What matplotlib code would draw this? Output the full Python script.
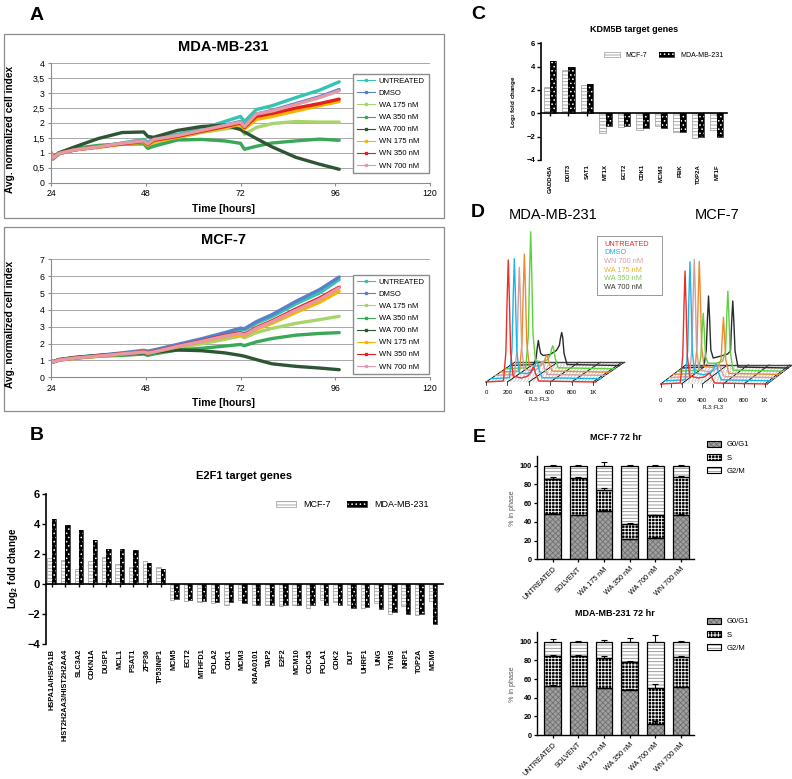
import numpy as np
import matplotlib.pyplot as plt
from matplotlib.patches import Rectangle, Patch
from matplotlib.lines import Line2D

plt.rcParams['font.family'] = ['Liberation Sans', 'DejaVu Sans']
plt.rcParams['mathtext.default'] = 'regular'
plt.rcParams['hatch.linewidth'] = 0.6

# ---------------- A: normalized cell index ----------------
hours = [24, 24.5, 26, 30, 36, 42, 47.5, 48.5, 50, 56, 62, 68, 72, 73, 76, 80, 86, 92, 97]
growth_labels = ['UNTREATED', 'DMSO', 'WA 175 nM', 'WA 350 nM', 'WA 700 nM',
                 'WN 175 nM', 'WN 350 nM', 'WN 700 nM']
growth_colors = ['#33c4b4', '#5b80c8', '#a9d46c', '#3aa857', '#2e5634',
                 '#f7b500', '#e3201b', '#e59aa8']

mda_untreated = [1.0, 0.8, 0.97, 1.1, 1.2, 1.33, 1.45, 1.35, 1.48, 1.62, 1.8, 2.05, 2.22, 2.05, 2.45, 2.58, 2.85, 3.1, 3.38]
mda_dmso = [1.0, 0.82, 0.97, 1.1, 1.2, 1.32, 1.4, 1.3, 1.45, 1.58, 1.75, 1.93, 2.05, 1.9, 2.3, 2.42, 2.65, 2.88, 3.12]
mda_wa175 = [1.0, 0.85, 0.98, 1.12, 1.2, 1.28, 1.32, 1.18, 1.3, 1.5, 1.68, 1.8, 1.87, 1.62, 1.85, 1.98, 2.05, 2.03, 2.03]
mda_wa350 = [1.0, 0.85, 1.0, 1.15, 1.25, 1.3, 1.3, 1.15, 1.22, 1.43, 1.45, 1.4, 1.32, 1.12, 1.22, 1.33, 1.4, 1.46, 1.42]
mda_wa700 = [1.0, 0.82, 1.0, 1.2, 1.48, 1.68, 1.7, 1.55, 1.52, 1.75, 1.88, 1.93, 1.78, 1.7, 1.48, 1.2, 0.85, 0.62, 0.45]
mda_wn175 = [1.0, 0.8, 0.97, 1.1, 1.18, 1.3, 1.35, 1.25, 1.38, 1.52, 1.7, 1.85, 1.95, 1.8, 2.12, 2.22, 2.4, 2.58, 2.72]
mda_wn350 = [1.0, 0.8, 0.98, 1.1, 1.2, 1.3, 1.38, 1.28, 1.42, 1.55, 1.72, 1.88, 2.0, 1.85, 2.22, 2.32, 2.5, 2.65, 2.8]
mda_wn700 = [1.0, 0.82, 0.98, 1.1, 1.2, 1.32, 1.4, 1.3, 1.45, 1.58, 1.75, 1.92, 2.03, 1.88, 2.3, 2.4, 2.62, 2.85, 3.08]

mcf_untreated = [1.0, 0.9, 1.02, 1.15, 1.28, 1.42, 1.55, 1.5, 1.58, 1.9, 2.22, 2.6, 2.85, 2.8, 3.2, 3.6, 4.35, 5.0, 5.8]
mcf_dmso = [1.0, 0.92, 1.03, 1.17, 1.3, 1.45, 1.6, 1.55, 1.62, 1.95, 2.28, 2.65, 2.92, 2.88, 3.3, 3.72, 4.5, 5.2, 5.95]
mcf_wa175 = [1.0, 0.92, 1.05, 1.15, 1.25, 1.35, 1.45, 1.38, 1.45, 1.75, 1.98, 2.25, 2.45, 2.35, 2.65, 2.9, 3.2, 3.42, 3.62]
mcf_wa350 = [1.0, 0.92, 1.05, 1.15, 1.25, 1.3, 1.38, 1.3, 1.38, 1.62, 1.72, 1.85, 1.95, 1.88, 2.1, 2.3, 2.5, 2.6, 2.65]
mcf_wa700 = [1.0, 0.92, 1.05, 1.18, 1.3, 1.38, 1.45, 1.4, 1.48, 1.62, 1.58, 1.45, 1.3, 1.25, 1.05, 0.8, 0.65, 0.55, 0.45]
mcf_wn175 = [1.0, 0.9, 1.02, 1.12, 1.25, 1.38, 1.5, 1.42, 1.5, 1.8, 2.1, 2.4, 2.52, 2.45, 2.85, 3.2, 3.85, 4.45, 5.1]
mcf_wn350 = [1.0, 0.9, 1.02, 1.14, 1.27, 1.4, 1.52, 1.45, 1.52, 1.85, 2.15, 2.48, 2.65, 2.55, 2.95, 3.35, 4.05, 4.7, 5.35]
mcf_wn700 = [1.0, 0.9, 1.02, 1.14, 1.26, 1.39, 1.5, 1.44, 1.5, 1.83, 2.12, 2.44, 2.6, 2.5, 2.9, 3.3, 3.98, 4.62, 5.3]

# ---------------- B: E2F1 targets ----------------
e2f1_genes = ['HSPA1A/HSPA1B', 'HIST2H2AA3/HIST2H2AA4', 'SLC3A2', 'CDKN1A', 'DUSP1', 'MCL1',
              'PSAT1', 'ZFP36', 'TP53INP1', 'MCM5', 'ECT2', 'MTHFD1', 'POLA2', 'CDK1', 'MCM3',
              'KIAA0101', 'TAP2', 'E2F2', 'MCM10', 'CDC45', 'POLA1', 'CDK2', 'DUT', 'UHRF1',
              'UNG', 'TYMS', 'NRP1', 'TOP2A', 'MCM6']
e2f1_mcf7 = [1.7, 1.6, 1.0, 1.55, 1.8, 1.3, 1.15, 1.55, 1.1, -1.1, -1.15, -1.25, -1.3, -1.4,
             -1.1, -1.45, -1.45, -1.5, -1.4, -1.6, -1.1, -1.2, -1.45, -1.6, -1.3, -2.0, -1.5,
             -2.1, -1.15]
e2f1_mda = [4.35, 3.95, 3.6, 2.9, 2.3, 2.3, 2.25, 1.4, 1.0, -1.05, -1.1, -1.15, -1.25, -1.25,
            -1.3, -1.4, -1.4, -1.4, -1.4, -1.45, -1.45, -1.4, -1.6, -1.55, -1.7, -1.9, -2.0,
            -2.0, -2.7]

# ---------------- C: KDM5B targets ----------------
kdm_genes = ['GADD45A', 'DDIT3', 'SAT1', 'MT1X', 'ECT2', 'CDK1', 'MCM3', 'PBK', 'TOP2A', 'MT1F']
kdm_mcf7 = [2.25, 3.7, 2.4, -1.7, -1.2, -1.45, -1.1, -1.6, -2.1, -1.45]
kdm_mda = [4.5, 4.0, 2.55, -1.05, -1.1, -1.3, -1.3, -1.6, -2.0, -2.0]

# ---------------- D: DNA content histograms (FL3, counts) ----------------
flow_labels = ['UNTREATED', 'DMSO', 'WN 700 nM', 'WA 175 nM', 'WA 350 nM', 'WA 700 nM']
flow_colors = ['#e8302a', '#1eb4e8', '#cf9f9f', '#ee8a2e', '#5fd040', '#2a2a2a']
flow_text_colors = ['#e8302a', '#1eb4e8', '#d9a0a0', '#f0b030', '#80d060', '#333333']
mda_fl3 = [
    [0, 163, 186, 198, 208, 218, 230, 253, 330, 392, 420, 432, 442, 452, 464, 492, 1024],
    [0, 175, 198, 210, 220, 230, 242, 265, 330, 379, 407, 419, 429, 439, 451, 479, 1024],
    [0, 177, 200, 212, 222, 232, 244, 267, 335, 385, 413, 425, 435, 445, 457, 485, 1024],
    [0, 179, 202, 214, 224, 234, 246, 269, 335, 383, 411, 423, 433, 443, 455, 483, 1024],
    [0, 193, 216, 228, 238, 248, 260, 283, 345, 394, 422, 434, 444, 454, 466, 494, 1024],
    [0, 220, 243, 255, 265, 275, 287, 310, 374, 433, 461, 473, 483, 493, 505, 533, 1024]]
mda_counts = [
    [0, 1, 30, 85, 122, 85, 30, 6, 4, 6, 10, 13, 15, 13, 8, 1, 0],
    [0, 1, 30, 84, 120, 84, 30, 6, 5, 7, 11, 15, 17, 15, 9, 1, 0],
    [0, 1, 27, 76, 108, 76, 27, 6, 5, 6, 9, 12, 14, 12, 7, 1, 0],
    [0, 1, 30, 83, 118, 83, 30, 7, 6, 7, 11, 15, 17, 15, 9, 1, 0],
    [0, 1, 34, 96, 137, 96, 34, 8, 7, 9, 14, 20, 23, 20, 11, 1, 0],
    [0, 1, 7, 18, 25, 18, 12, 10, 11, 15, 20, 28, 33, 28, 12, 1, 0]]
mcf_fl3 = [
    [0, 189, 212, 224, 234, 244, 256, 279, 360, 417, 445, 457, 467, 477, 489, 517, 1024],
    [0, 196, 219, 231, 241, 251, 263, 286, 370, 441, 469, 481, 491, 501, 513, 541, 1024],
    [0, 197, 220, 232, 242, 252, 264, 287, 365, 430, 458, 470, 480, 490, 502, 530, 1024],
    [0, 205, 228, 240, 250, 260, 272, 295, 370, 432, 460, 472, 482, 492, 504, 532, 1024],
    [0, 202, 225, 237, 247, 257, 269, 292, 370, 434, 462, 474, 484, 494, 506, 534, 1024],
    [0, 213, 236, 248, 258, 268, 280, 303, 380, 441, 469, 481, 491, 501, 513, 541, 1024]]
mcf_counts = [
    [0, 1, 28, 79, 113, 79, 28, 8, 6, 7, 9, 10, 11, 10, 7, 1, 0],
    [0, 1, 30, 83, 119, 83, 30, 8, 6, 8, 12, 15, 17, 15, 9, 1, 0],
    [0, 1, 30, 83, 118, 83, 30, 8, 6, 7, 9, 11, 12, 11, 7, 1, 0],
    [0, 1, 28, 79, 113, 79, 28, 8, 7, 9, 15, 40, 57, 40, 15, 1, 0],
    [0, 1, 15, 41, 58, 41, 15, 8, 8, 10, 20, 56, 80, 56, 20, 1, 0],
    [0, 1, 18, 50, 72, 50, 18, 10, 12, 14, 17, 47, 67, 47, 17, 1, 0]]
fl3_ticks = [0, 200, 400, 600, 800, 1000]
fl3_ticklabels = ['0', '200', '400', '600', '800', '1K']

# ---------------- E: cell cycle phases ----------------
phase_groups = ['UNTREATED', 'SOLVENT', 'WA 175 nM', 'WA 350 nM', 'WA 700 nM', 'WN 700 nM']
mcf_g1 = [48, 47, 51.5, 21.5, 23, 47.5]
mcf_s = [38, 40, 23, 16, 24, 40]
mcf_g1_err = [1, 0.5, 1.5, 0.5, 1, 0.5]
mcf_s_err = [1.5, 1, 2, 1, 0.5, 1]
mcf_tot_err = [1, 1, 4, 1, 1, 1]
mda_g1 = [52.5, 52.5, 50, 48.5, 11.5, 51]
mda_s = [32, 32, 33, 30, 38.5, 32.5]
mda_g1_err = [1, 0.5, 0.5, 1, 3, 0.5]
mda_s_err = [1, 1, 1.5, 1, 5, 1]
mda_tot_err = [2.5, 1, 1.5, 3.5, 7, 1]

W, H = 792, 779
fig = plt.figure(figsize=(W / 100, H / 100), dpi=100)


def px_axes(x0, y0, x1, y1):
    return fig.add_axes([x0 / W, 1 - y1 / H, (x1 - x0) / W, (y1 - y0) / H])


# overlay in pixel coordinates for boxes, letters and the flow panels
ov = fig.add_axes([0, 0, 1, 1])
ov.set_xlim(0, W)
ov.set_ylim(H, 0)
ov.axis('off')

for lab, (lx, ly) in zip('ABCDE', [(37, 15), (37, 435), (478, 14), (478, 212), (479, 437)]):
    ov.text(lx, ly, lab, fontsize=14, fontweight='bold', ha='center', va='center')


# ---- A ----
def growth_panel(y_top, y_bot, ymax, series, title, box, leg_y):
    ov.add_patch(Rectangle((3.5, box[0]), 440.5, box[1] - box[0], fill=False,
                           edgecolor='#8c8c8c', lw=0.9))
    ov.text(223, box[0] + 13, title, fontsize=10.5, fontweight='bold', ha='center', va='center')
    ov.text(223, y_bot + 26, 'Time [hours]', fontsize=7.5, fontweight='bold',
            ha='center', va='center')
    ax = px_axes(51, y_top, 430, y_bot)
    for vals, col, name in zip(series, growth_colors, growth_labels):
        ax.plot(hours, vals, color=col, lw=2.4, solid_capstyle='round', label=name)
    ax.set_xlim(24, 120)
    ax.set_ylim(0, ymax)
    ax.set_xticks([24, 48, 72, 96, 120])
    step = 0.5 if ymax <= 4 else 1
    yt = np.arange(0, ymax + 0.01, step)
    ax.set_yticks(yt)
    ax.set_yticklabels([('%g' % v).replace('.', ',') for v in yt])
    ax.grid(axis='y', color='#a8a8a8', lw=0.7)
    ax.set_axisbelow(True)
    for sp in ['top', 'right']:
        ax.spines[sp].set_visible(False)
    for sp in ['left', 'bottom']:
        ax.spines[sp].set_color('#8c8c8c')
    ax.tick_params(labelsize=6.3, length=2.5, color='#8c8c8c', pad=2)
    ax.set_ylabel('Avg. normalized cell index', fontsize=7.3, fontweight='bold')
    ax.yaxis.set_label_coords(-0.095, 0.45)
    handles = [Line2D([0], [0], color=c, lw=0.8, marker='s', ms=1.8) for c in growth_colors]
    ax.legend(handles, growth_labels, loc='upper left', bbox_to_anchor=(349 / W, 1 - leg_y / H),
              bbox_transform=fig.transFigure, fontsize=5.5, fancybox=False, framealpha=1,
              edgecolor='#8c8c8c', handlelength=2.4, labelspacing=0.62, borderpad=0.5,
              handletextpad=0.5)


growth_panel(63.3, 182.7, 4, [mda_untreated, mda_dmso, mda_wa175, mda_wa350, mda_wa700,
                              mda_wn175, mda_wn350, mda_wn700], 'MDA-MB-231', (33.5, 218), 70)
growth_panel(259.3, 377.3, 7, [mcf_untreated, mcf_dmso, mcf_wa175, mcf_wa350, mcf_wa700,
                               mcf_wn175, mcf_wn350, mcf_wn700], 'MCF-7', (227, 411), 271)


# ---- B and C ----
def fold_panel(ax, genes, mcf, mda, w, lab_fs, tick_fs, title, title_fs, title_pad,
               leg_xy, leg_fs, ylab_x):
    x = np.arange(len(genes))
    ax.bar(x - w / 2, mcf, w, color='white', edgecolor='#9a9a9a', hatch='-----', lw=0.5)
    ax.bar(x + w / 2, mda, w, color='black', edgecolor='white', hatch='....', lw=0)
    ax.bar(x + w / 2, mda, w, fill=False, edgecolor='black', lw=0.5)
    ax.set_ylim(-4, 6)
    ax.set_yticks([-4, -2, 0, 2, 4, 6])
    ax.set_xticks(x)
    ax.tick_params(axis='x', labelbottom=False, length=2.5, width=1)
    ax.tick_params(axis='y', labelsize=tick_fs, length=3, width=1, pad=1)
    for t in ax.get_yticklabels():
        t.set_fontweight('bold')
    ax.spines['bottom'].set_position(('data', 0))
    ax.spines['bottom'].set_linewidth(1.2)
    ax.spines['left'].set_linewidth(1.2)
    for sp in ['top', 'right']:
        ax.spines[sp].set_visible(False)
    for i, g in enumerate(genes):
        ax.text(i, -4.35, g, rotation=90, ha='center', va='top', fontsize=lab_fs,
                fontweight='bold')
    ax.set_title(title, fontsize=title_fs, fontweight='bold', pad=title_pad)
    ax.set_ylabel('Log$_2$ fold change', fontsize=tick_fs - 1, fontweight='bold')
    ax.yaxis.set_label_coords(ylab_x, 0.5)
    h_mcf = Patch(facecolor='white', edgecolor='#9a9a9a', hatch='-----', lw=0.5)
    h_mda = (Patch(facecolor='black', edgecolor='white', hatch='....', lw=0),
             Patch(fill=False, edgecolor='black', lw=0.5))
    ax.legend([h_mcf, h_mda], ['MCF-7', 'MDA-MB-231'], ncol=2, frameon=False,
              loc='upper left', bbox_to_anchor=(leg_xy[0] / W, 1 - leg_xy[1] / H),
              bbox_transform=fig.transFigure, fontsize=leg_fs, handlelength=2.2,
              columnspacing=1.8, handletextpad=0.8)


axB = px_axes(45.7, 494, 443, 643.5)
axB.set_xlim(-0.44, 28.73)
fold_panel(axB, e2f1_genes, e2f1_mcf7, e2f1_mda, 0.32, 5.3, 8, 'E2F1 target genes', 8, 11,
           (268, 492), 6.5, -0.065)

axC = px_axes(540.7, 43.3, 726.7, 160)
axC.set_xlim(-0.5, 9.54)
fold_panel(axC, kdm_genes, kdm_mcf7, kdm_mda, 0.34, 4.3, 5.5, 'KDM5B target genes', 6.5, 8,
           (598, 46), 5, -0.12)


# ---- D ----
def flow_panel(x0, y0, dx, dy, sx, fl3, counts, minor, lab_y):
    n = len(fl3)

    def proj(f, d, h=0):
        f = np.asarray(f, dtype=float)
        return x0 + f * sx + d * dx, y0 - d * dy - np.asarray(h) + 0 * f

    for d in range(n):
        for f in np.arange(18, 1025, 30):
            xa, ya = proj(f, d)
            xb, yb = proj(f - 18, d + 1)
            ov.plot([xa, xb], [ya, yb], color='#a0a0a0', lw=0.3)
    for f in fl3_ticks + [1024]:
        xa, ya = proj(f, 0)
        xb, yb = proj(f, n)
        ov.plot([xa, xb], [ya, yb], color='black', lw=0.6)
    xa, ya = proj([0, 1024], n)
    ov.plot(xa, ya, color='#444444', lw=1.0)
    for i in reversed(range(n)):
        px, py = proj(fl3[i], i, counts[i])
        ov.plot(px, py, color=flow_colors[i], lw=1.0)
    ticks = np.arange(0, 1025, 100) if minor else fl3_ticks
    for f in ticks:
        xa, ya = proj(f, 0)
        ov.plot([xa, xa], [ya, ya + 2.5], color='black', lw=0.5)
    for f, lab in zip(fl3_ticks, fl3_ticklabels):
        xa, ya = proj(f, 0)
        ov.text(xa, lab_y, lab, fontsize=4.3, ha='center', va='center')
    xa, _ = proj(500, 0)
    ov.text(xa, lab_y + 7, 'FL3::FL3', fontsize=3.8, ha='center', va='center')


flow_panel(486, 382, 4.8, 3.3, 0.107, mda_fl3, mda_counts, False, 392)
flow_panel(660.7, 384, 4.2, 3.2, 0.104, mcf_fl3, mcf_counts, True, 400)
ov.text(553, 215, 'MDA-MB-231', fontsize=10.5, ha='center', va='center')
ov.text(717, 215, 'MCF-7', fontsize=10.5, ha='center', va='center')
ov.add_patch(Rectangle((596.7, 235.7), 65, 59.3, facecolor='white', edgecolor='#999999', lw=0.7))
for k, (lab, col) in enumerate(zip(flow_labels, flow_text_colors)):
    ov.text(604, 244 + k * 8.7, lab, color=col, fontsize=5.3, ha='left', va='center')


# ---- E ----
def phase_panel(ax, g1, s, g1e, se, te, title, leg_y):
    x = np.arange(len(phase_groups))
    g1 = np.array(g1)
    s = np.array(s)
    g2 = 100 - g1 - s
    w = 0.65
    ax.bar(x, g1, w, color='#a0a0a0', edgecolor='#707070', hatch='xxxxxx', lw=0)
    ax.bar(x, s, w, bottom=g1, color='black', edgecolor='white', hatch='+++++', lw=0)
    ax.bar(x, g2, w, bottom=g1 + s, color='white', edgecolor='#8a8a8a', hatch='-----', lw=0)
    for bot, hgt in [(0, g1), (g1, s), (g1 + s, g2)]:
        ax.bar(x, hgt, w, bottom=bot, fill=False, edgecolor='black', lw=0.9)
    z = np.zeros(len(x))
    for top, err in [(g1, g1e), (g1 + s, se), (g1 + s + g2, te)]:
        ax.errorbar(x, top, yerr=[z, err], fmt='none', ecolor='black', elinewidth=0.8,
                    capsize=2, capthick=0.8)
    ax.set_xlim(-0.62, 5.51)
    ax.set_ylim(0, 110)
    ax.set_yticks(np.arange(0, 101, 20))
    ax.set_xticks(x)
    ax.set_xticklabels(phase_groups, rotation=45, ha='right', rotation_mode='anchor',
                       fontsize=5.2)
    ax.tick_params(axis='y', labelsize=5.3, length=2.5, width=0.9, pad=1)
    ax.tick_params(axis='x', length=2.5, width=0.9, pad=2)
    for t in ax.get_yticklabels():
        t.set_fontweight('bold')
    for sp in ['top', 'right']:
        ax.spines[sp].set_visible(False)
    ax.spines['left'].set_linewidth(1.0)
    ax.spines['bottom'].set_linewidth(1.0)
    ax.set_title(title, fontsize=6.5, fontweight='bold', pad=12)
    ax.set_ylabel('% in phase', fontsize=5.2, color='#555555')
    ax.yaxis.set_label_coords(-0.13, 0.5)
    hs = [(Patch(facecolor='#a0a0a0', edgecolor='#707070', hatch='xxxxxx', lw=0),
           Patch(fill=False, edgecolor='black', lw=0.8)),
          (Patch(facecolor='black', edgecolor='white', hatch='+++++', lw=0),
           Patch(fill=False, edgecolor='black', lw=0.8)),
          (Patch(facecolor='white', edgecolor='#8a8a8a', hatch='-----', lw=0),
           Patch(fill=False, edgecolor='black', lw=0.8))]
    ax.legend(hs, ['G0/G1', 'S', 'G2/M'], loc='upper left', frameon=False,
              bbox_to_anchor=(700 / W, 1 - leg_y / H), bbox_transform=fig.transFigure,
              fontsize=5.5, handlelength=1.8, handleheight=0.8, labelspacing=0.75,
              handletextpad=0.8)


axE1 = px_axes(536.7, 456.3, 694, 559.3)
phase_panel(axE1, mcf_g1, mcf_s, mcf_g1_err, mcf_s_err, mcf_tot_err, 'MCF-7 72 hr', 434)
axE2 = px_axes(536.7, 632.4, 694, 735)
phase_panel(axE2, mda_g1, mda_s, mda_g1_err, mda_s_err, mda_tot_err, 'MDA-MB-231 72 hr', 611)

fig.savefig('out.png', dpi=100)
